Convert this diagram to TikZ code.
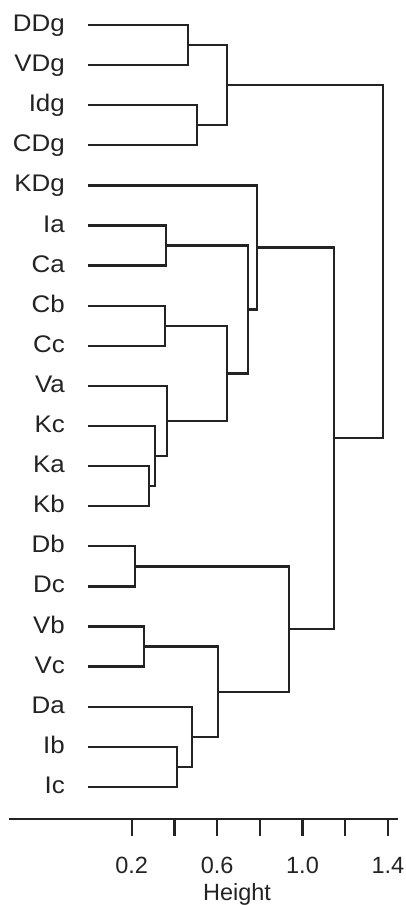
\documentclass[tikz,border=0pt]{standalone}
\usepackage{fontspec}
\setmainfont{Liberation Sans}
\newfontfamily\leaffont[FakeStretch=1.08]{Liberation Sans}
\usepackage{tikz}
\usetikzlibrary{calc,positioning}
\definecolor{ink}{RGB}{35,35,35}
\tikzset
{
	leaf/.style   = {anchor=base east, inner sep=0pt, text=ink, font=\leaffont\fontsize{24}{28}\selectfont},
	branch/.style = {draw=ink, line width=2.3pt, line cap=rect},
	ticklab/.style = {anchor=base, inner sep=0pt, text=ink, font=\fontsize{23.5}{28}\selectfont}
}
% join two branches at a given height
\newcommand{\joinpair}[4]{%
	\path let \p1 = ($(#2)!0.5!(#3)$) in coordinate (#1) at ({(89+213.5*#4)*1pt},\y1);
	\draw[branch] (#2) -| (#1) |- (#3);
}

\begin{document}
\begin{tikzpicture}[x=1pt, y=-1pt]
\useasboundingbox (0,0) rectangle (405,905);
\foreach \nm [count=\i from 0] in {DDg,VDg,Idg,CDg,KDg,Ia,Ca,Cb,Cc,Va,Kc,Ka,Kb,Db,Dc,Vb,Vc,Da,Ib,Ic}
{
	\node[leaf] (\nm) at (65, 31.5+40.1*\i) {\nm};
	\coordinate (\nm-end) at (89, 25+40.1*\i);
}
% upper cluster
\joinpair{dv}{DDg-end}{VDg-end}{0.464}
\joinpair{ic}{Idg-end}{CDg-end}{0.506}
\joinpair{dg}{dv}{ic}{0.646}
% middle cluster
\joinpair{iaca}{Ia-end}{Ca-end}{0.361}
\joinpair{cbcc}{Cb-end}{Cc-end}{0.356}
\joinpair{kakb}{Ka-end}{Kb-end}{0.281}
\joinpair{kgrp}{Kc-end}{kakb}{0.309}
\joinpair{vk}{Va-end}{kgrp}{0.365}
\joinpair{cvk}{cbcc}{vk}{0.646}
\joinpair{acvk}{iaca}{cvk}{0.745}
\joinpair{kdg}{KDg-end}{acvk}{0.787}
% lower cluster
\joinpair{dbdc}{Db-end}{Dc-end}{0.215}
\joinpair{vbvc}{Vb-end}{Vc-end}{0.258}
\joinpair{ibic}{Ib-end}{Ic-end}{0.412}
\joinpair{dib}{Da-end}{ibic}{0.482}
\joinpair{vdib}{vbvc}{dib}{0.604}
\joinpair{dgrp}{dbdc}{vdib}{0.937}
\joinpair{lower}{kdg}{dgrp}{1.148}
\joinpair{root}{dg}{lower}{1.377}
% axis
\draw[branch] (10,819) -- (397,819);
\foreach \k in {1,...,7}
	\draw[branch] (89+42.7*\k, 819) -- (89+42.7*\k, 835);
\node[ticklab] (t02) at (89+213.5*0.2, 873) {0.2};
\node[ticklab] (t06) at (89+213.5*0.6, 873) {0.6};
\node[ticklab] (t10) at (89+213.5*1.0, 873) {1.0};
\node[ticklab] (t14) at (89+213.5*1.4, 873) {1.4};
\node[ticklab] (height) at (237, 900) {Height};
\end{tikzpicture}
\end{document}
